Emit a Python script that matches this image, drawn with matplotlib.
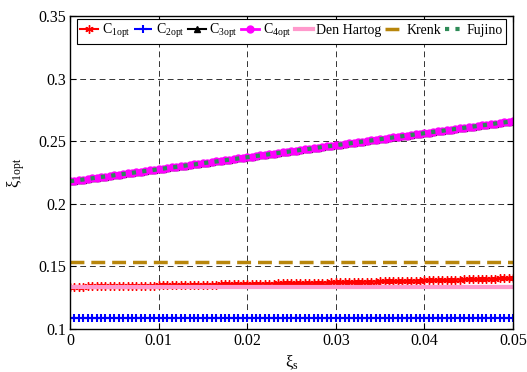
import numpy as np
import matplotlib
matplotlib.use("Agg")
import matplotlib.pyplot as plt

plt.rcParams['font.family'] = ['Liberation Serif', 'DejaVu Serif']
plt.rcParams['mathtext.fontset'] = 'custom'
plt.rcParams['mathtext.rm'] = 'Liberation Serif'
plt.rcParams['mathtext.it'] = 'Liberation Serif:italic'

# xi_s axis: 101 samples between 0 and 0.05
xi_s = np.linspace(0, 0.05, 101)

c1opt = [0.1338, 0.1338, 0.1339, 0.1339, 0.1340, 0.1340, 0.1341, 0.1341, 0.1342, 0.1342,
         0.1343, 0.1343, 0.1344, 0.1344, 0.1345, 0.1345, 0.1346, 0.1346, 0.1347, 0.1347,
         0.1348, 0.1348, 0.1349, 0.1349, 0.1350, 0.1350, 0.1351, 0.1351, 0.1352, 0.1353,
         0.1354, 0.1354, 0.1355, 0.1355, 0.1356, 0.1356, 0.1357, 0.1357, 0.1358, 0.1359,
         0.1360, 0.1360, 0.1361, 0.1361, 0.1362, 0.1362, 0.1363, 0.1364, 0.1365, 0.1365,
         0.1366, 0.1366, 0.1367, 0.1368, 0.1369, 0.1369, 0.1370, 0.1370, 0.1371, 0.1372,
         0.1373, 0.1373, 0.1374, 0.1375, 0.1376, 0.1376, 0.1377, 0.1378, 0.1379, 0.1379,
         0.1380, 0.1381, 0.1382, 0.1382, 0.1383, 0.1384, 0.1385, 0.1385, 0.1386, 0.1387,
         0.1388, 0.1389, 0.1390, 0.1390, 0.1391, 0.1392, 0.1393, 0.1394, 0.1395, 0.1396,
         0.1397, 0.1398, 0.1399, 0.1400, 0.1401, 0.1402, 0.1403, 0.1404, 0.1405, 0.1406, 0.1407]
c2opt = [0.109] * 101
c4opt = [0.2180, 0.2185, 0.2190, 0.2194, 0.2199, 0.2204, 0.2209, 0.2214, 0.2218, 0.2223,
         0.2228, 0.2233, 0.2238, 0.2242, 0.2247, 0.2252, 0.2257, 0.2262, 0.2266, 0.2271,
         0.2276, 0.2281, 0.2286, 0.2290, 0.2295, 0.2300, 0.2305, 0.2310, 0.2314, 0.2319,
         0.2324, 0.2329, 0.2334, 0.2338, 0.2343, 0.2348, 0.2353, 0.2358, 0.2362, 0.2367,
         0.2372, 0.2377, 0.2382, 0.2386, 0.2391, 0.2396, 0.2401, 0.2406, 0.2410, 0.2415,
         0.2420, 0.2425, 0.2430, 0.2434, 0.2439, 0.2444, 0.2449, 0.2454, 0.2458, 0.2463,
         0.2468, 0.2473, 0.2478, 0.2482, 0.2487, 0.2492, 0.2497, 0.2502, 0.2506, 0.2511,
         0.2516, 0.2521, 0.2526, 0.2530, 0.2535, 0.2540, 0.2545, 0.2550, 0.2554, 0.2559,
         0.2564, 0.2569, 0.2574, 0.2578, 0.2583, 0.2588, 0.2593, 0.2598, 0.2602, 0.2607,
         0.2612, 0.2617, 0.2622, 0.2626, 0.2631, 0.2636, 0.2641, 0.2646, 0.2650, 0.2655, 0.2660]
c3opt = list(c4opt)   # identical to C4opt
fujino = list(c4opt)  # identical to C4opt
den_hartog = 0.1335
krenk = 0.1538

yticks = [0.1, 0.15, 0.2, 0.25, 0.3, 0.35]
ytick_labels = ['0.1', '0.15', '0.2', '0.25', '0.3', '0.35']
xticks = [0, 0.01, 0.02, 0.03, 0.04, 0.05]
xtick_labels = ['0', '0.01', '0.02', '0.03', '0.04', '0.05']

asterisk = (6, 2, 0)

fig = plt.figure(figsize=(5.27, 3.72), dpi=100)
ax = fig.add_axes([0.1328, 0.1156, 0.8406, 0.8414])

ax.plot(xi_s, c1opt, '-', color='red', marker=asterisk, ms=6, mew=1.0, lw=1.5, label=r'C$_{\mathrm{1opt}}$')
ax.plot(xi_s, c2opt, '--', color='blue', marker='+', ms=6, mew=1.5, lw=1.5, label=r'C$_{\mathrm{2opt}}$')
ax.plot(xi_s, c3opt, '-', color='black', marker='^', ms=4, lw=1.5, label=r'C$_{\mathrm{3opt}}$')
ax.plot(xi_s, c4opt, '-', color='magenta', marker='o', ms=5, lw=2, label=r'C$_{\mathrm{4opt}}$')
ax.plot([0, 0.05], [den_hartog, den_hartog], '-', color='#ff99cc', lw=3, label='Den Hartog')
ax.plot([0, 0.05], [krenk, krenk], color='#b8860b', lw=2.5, ls=(0, (4, 2)), label='Krenk')
ax.plot(xi_s, fujino, color='#2e8b57', lw=3, ls=(0, (1, 1.5)), label='Fujino')

ax.set_xlim(0, 0.05)
ax.set_ylim(0.1, 0.35)
ax.set_xticks(xticks)
ax.set_xticklabels(xtick_labels)
ax.set_yticks(yticks)
ax.set_yticklabels(ytick_labels)
ax.tick_params(direction='in', top=True, right=True, length=4, labelsize=11.5, pad=3)
ax.grid(True, color='black', ls=(0, (6, 4)), lw=0.7, alpha=0.8)
for s in ax.spines.values():
    s.set_linewidth(1.0)

ax.set_xlabel(r'ξ$_{\mathrm{s}}$', fontsize=12, labelpad=3)
ax.set_ylabel(r'ξ$_{\mathrm{1opt}}$', fontsize=12, labelpad=8)

leg = ax.legend(loc='upper center', ncol=7, fontsize=10, frameon=True, fancybox=False,
                edgecolor='black', framealpha=1, handlelength=1.3, handletextpad=0.25,
                columnspacing=0.25, borderpad=0.25, borderaxespad=0.2, markerscale=1.0)
leg.get_frame().set_linewidth(0.8)

fig.savefig('out.png', dpi=100)
